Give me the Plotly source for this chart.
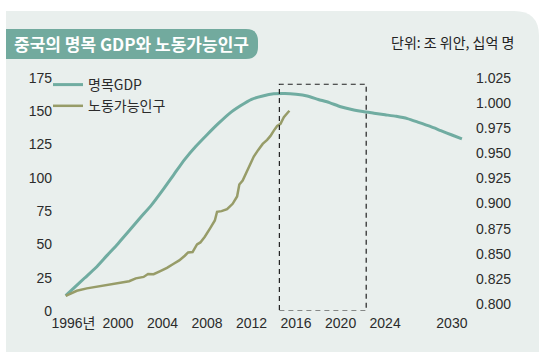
import plotly.graph_objects as go

# ---- data ----
gdp_years = [1995.3, 1996, 1997, 1998, 1999, 2000, 2001, 2002, 2003, 2004, 2005, 2006,
             2007, 2008, 2009, 2010, 2011, 2012, 2013, 2014, 2015, 2016, 2017, 2018,
             2019, 2020, 2021, 2022, 2023, 2024, 2025, 2026, 2027, 2028, 2029, 2030, 2030.9]
gdp_values = [11.5, 17.0, 24.8, 32.5, 41.6, 50.6, 60.2, 70.0, 79.5, 90.6, 102.3, 113.9,
              123.7, 132.4, 140.7, 148.3, 154.1, 159.0, 161.5, 163.1, 163.4, 162.8, 161.5, 158.9,
              156.5, 153.4, 151.3, 149.8, 148.6, 147.4, 146.2, 144.5, 141.7, 138.8, 135.5, 132.2, 129.2]

labor_years = [1995.3, 1996.3, 1997.2, 1998.4, 1999.9, 2001.0, 2001.6, 2002.3, 2002.7, 2003.2,
               2003.8, 2004.4, 2005.0, 2005.5, 2006.0, 2006.3, 2006.7, 2007.1, 2007.4, 2007.8,
               2008.3, 2008.7, 2008.9, 2009.3, 2009.8, 2010.3, 2010.7, 2010.9, 2011.2, 2011.6,
               2011.9, 2012.2, 2012.6, 2013.0, 2013.4, 2013.7, 2014.0, 2014.3, 2014.6, 2014.9,
               2015.2, 2015.4]
labor_values = [11.3, 15.2, 17.0, 18.8, 20.5, 22.4, 24.5, 25.6, 27.8, 27.6,
                30.0, 32.4, 35.5, 38.0, 41.5, 44.0, 44.3, 50.0, 51.5, 55.8,
                62.5, 68.0, 74.5, 75.0, 76.5, 80.5, 86.0, 95.0, 98.0, 105.5,
                111.0, 116.0, 121.0, 125.5, 128.5, 131.5, 135.5, 139.0, 140.5, 145.5,
                148.5, 150.4]

x_tick_values = [1996, 2000, 2004, 2008, 2012, 2016, 2020, 2024, 2030]
x_tick_labels = ["1996년", "2000", "2004", "2008", "2012", "2016", "2020", "2024", "2030"]
left_ticks = [0, 25, 50, 75, 100, 125, 150, 175]
right_ticks = [0.800, 0.825, 0.850, 0.875, 0.900, 0.925, 0.950, 0.975, 1.000, 1.025]
right_tick_labels = ["0.800", "0.825", "0.850", "0.875", "0.900", "0.925", "0.950", "0.975", "1.000", "1.025"]

highlight_x = (2014.5, 2022.3)
highlight_y = (0, 170.3)

title_text = "중국의 명목 GDP와 노동가능인구"
unit_text = "단위: 조 위안, 십억 명"

# ---- layout geometry ----
W, H = 548, 361
ML, MR, MT, MB = 60, 76, 78, 50
PW, PH = W - ML - MR, H - MT - MB


def px(x):
    return (x - ML) / PW


def py(y):
    return (H - MB - y) / PH


TEAL = "#70aca1"
OLIVE = "#979c68"
PANEL = "#e9efed"
TAB = "#72aa9e"
TXT = "#2b2b2b"
NUM_FONT = "Liberation Sans, Arial, Noto Sans CJK KR, sans-serif"
KR_FONT = "Noto Sans CJK KR, sans-serif"

fig = go.Figure()
fig.add_trace(go.Scatter(x=gdp_years, y=gdp_values, mode="lines", name="명목GDP",
                         line=dict(color=TEAL, width=3, shape="spline", smoothing=0.6)))
fig.add_trace(go.Scatter(x=labor_years, y=labor_values, mode="lines", name="노동가능인구",
                         line=dict(color=OLIVE, width=2.5)))
# invisible trace to activate the right axis
fig.add_trace(go.Scatter(x=[None], y=[None], yaxis="y2", showlegend=False, hoverinfo="skip"))

# panel with rounded top-right corner
r = 25
x0, y0, x1, y1 = 6, 11, 539, 352
panel_path = (f"M{px(x0)},{py(y0)} L{px(x1 - r)},{py(y0)} "
              f"Q{px(x1)},{py(y0)} {px(x1)},{py(y0 + r)} "
              f"L{px(x1)},{py(y1)} L{px(x0)},{py(y1)} Z")
tr = 12
tx0, ty0, tx1, ty1 = 6, 29, 258, 59
tab_path = (f"M{px(tx0)},{py(ty0)} L{px(tx1 - tr)},{py(ty0)} "
            f"Q{px(tx1)},{py(ty0)} {px(tx1)},{py(ty0 + tr)} "
            f"L{px(tx1)},{py(ty1 - tr)} Q{px(tx1)},{py(ty1)} {px(tx1 - tr)},{py(ty1)} "
            f"L{px(tx0)},{py(ty1)} Z")

fig.update_layout(
    width=W, height=H,
    margin=dict(l=ML, r=MR, t=MT, b=MB),
    paper_bgcolor="white", plot_bgcolor="rgba(0,0,0,0)",
    showlegend=True,
    legend=dict(x=px(48), y=py(69), xanchor="left", yanchor="top",
                bgcolor="rgba(0,0,0,0)", font=dict(family=KR_FONT, size=14, color=TXT),
                itemwidth=30, tracegroupgap=0),
    xaxis=dict(range=[2000 + (ML - 118) / 11.13, 2000 + (W - MR - 118) / 11.13],
               tickvals=x_tick_values, ticktext=x_tick_labels, showgrid=False,
               zeroline=False, showline=False, ticks="",
               tickfont=dict(family=NUM_FONT, size=14, color=TXT), ticklabelstandoff=2),
    yaxis=dict(range=[0, 175], tickvals=left_ticks, showgrid=False, zeroline=False,
               showline=False, ticks="", ticklabelstandoff=7,
               tickfont=dict(family=NUM_FONT, size=14, color=TXT)),
    yaxis2=dict(overlaying="y", side="right", range=[0.79303, 1.025], tickvals=right_ticks,
                ticktext=right_tick_labels, showgrid=False, zeroline=False, showline=False,
                ticks="", ticklabelstandoff=3,
                tickfont=dict(family=NUM_FONT, size=14, color=TXT)),
    shapes=[
        dict(type="path", path=panel_path, xref="paper", yref="paper",
             fillcolor=PANEL, line=dict(width=0), layer="below"),
        dict(type="path", path=tab_path, xref="paper", yref="paper",
             fillcolor=TAB, line=dict(width=0), layer="below"),
        dict(type="rect", xref="x", yref="y", x0=highlight_x[0], x1=highlight_x[1],
             y0=highlight_y[0], y1=highlight_y[1], line=dict(color="#222", width=1.2, dash="5px,4px"),
             fillcolor="rgba(0,0,0,0)", layer="above"),
    ],
    annotations=[
        dict(text=title_text, xref="paper", yref="paper", x=px(12), y=py(44),
             xanchor="left", yanchor="middle", showarrow=False,
             font=dict(family=KR_FONT, size=17, color="white", weight="bold")),
        dict(text=unit_text, xref="paper", yref="paper", x=px(516), y=py(42),
             xanchor="right", yanchor="middle", showarrow=False,
             font=dict(family=KR_FONT, size=14, color="#222")),
    ],
)

fig.write_html("out.html", config={"displayModeBar": False},
               post_script="document.body.style.margin='0';document.body.style.padding='0';")
